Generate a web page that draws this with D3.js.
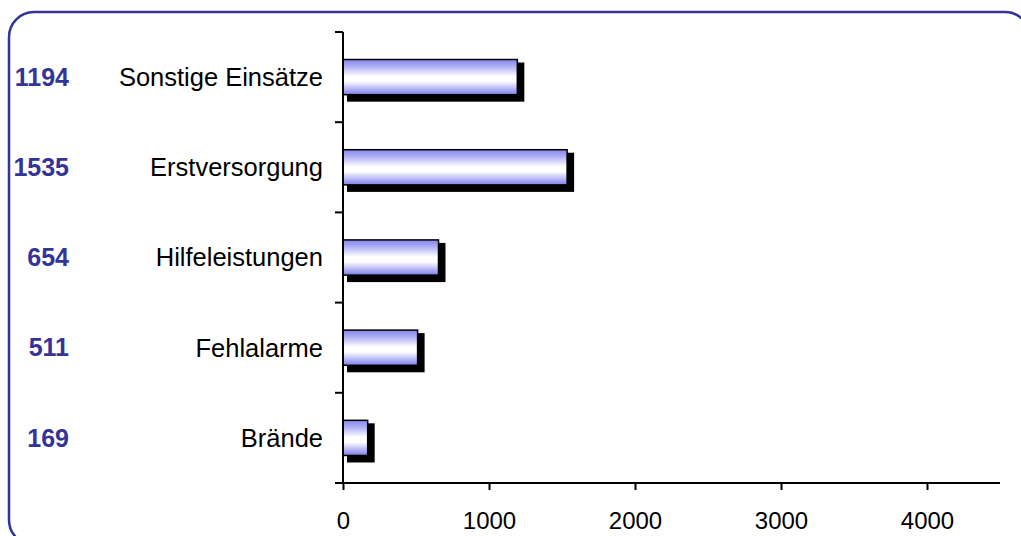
<!DOCTYPE html>
<html><head><meta charset="utf-8">
<script src="https://cdn.jsdelivr.net/npm/d3@7"></script>
<style>html,body{margin:0;padding:0;background:#fff;overflow:hidden}</style>
</head><body>
<svg id="c" width="1021" height="536"></svg>
<script>
const categories = ["Sonstige Einsätze", "Erstversorgung", "Hilfeleistungen", "Fehlalarme", "Brände"];
const values = [1194, 1535, 654, 511, 169];
const xTicks = [0, 1000, 2000, 3000, 4000];

const svg = d3.select("#c");
const font = "'Liberation Sans', Arial, sans-serif";

// frame
svg.append("rect").attr("x", 9).attr("y", 12).attr("width", 1021).attr("height", 533)
  .attr("rx", 25).attr("ry", 25).attr("fill", "none").attr("stroke", "#333399").attr("stroke-width", 2.5);

const defs = svg.append("defs");
const g = defs.append("linearGradient").attr("id", "bg").attr("x1", 0).attr("x2", 0).attr("y1", 0).attr("y2", 1);
[[0, "#8585ee"], [0.2, "#b0b0f6"], [0.48, "#ffffff"], [0.62, "#ffffff"], [0.85, "#b0b0f4"], [1, "#7f7fe8"]]
  .forEach(([o, c]) => g.append("stop").attr("offset", o).attr("stop-color", c));

const x = d3.scaleLinear().domain([0, 4500]).range([343, 1000]);
const y = d3.scaleBand().domain(categories).range([32, 483]).paddingInner(0.61).paddingOuter(0.305);
const yb = d3.scaleBand().domain(categories).range([32, 483]);

// shadows
svg.selectAll(".sh").data(values).join("rect")
  .attr("x", x(0) + 4).attr("y", (d, i) => y(categories[i]) + 3)
  .attr("width", d => x(d) - x(0) + 3).attr("height", y.bandwidth() + 4)
  .attr("fill", "#000");
// bars
svg.selectAll(".bar").data(values).join("rect")
  .attr("x", x(0)).attr("y", (d, i) => y(categories[i]))
  .attr("width", d => x(d) - x(0)).attr("height", y.bandwidth())
  .attr("fill", "url(#bg)").attr("stroke", "#000").attr("stroke-width", 1.5);

// x axis
const xa = svg.append("g").attr("transform", "translate(0,483)")
  .call(d3.axisBottom(x).tickValues(xTicks).tickFormat(d3.format("d")).tickSize(7).tickSizeOuter(0).tickPadding(22));
xa.select(".domain").attr("d", "M335,0H1000").attr("stroke-width", 2);
xa.selectAll(".tick line").attr("stroke-width", 2);
xa.selectAll("text").attr("font-family", font).attr("font-size", 24).attr("fill", "#000");

// y axis line and ticks at band boundaries
const ya = svg.append("g").attr("transform", "translate(343,0)")
  .call(d3.axisLeft(yb).tickSize(0).tickFormat(""));
ya.select(".domain").attr("d", "M0,32V483").attr("stroke-width", 2);
svg.selectAll(".yt").data(categories).join("line")
  .attr("x1", 335).attr("x2", 343)
  .attr("y1", d => yb(d)).attr("y2", d => yb(d))
  .attr("stroke", "#000").attr("stroke-width", 2);

// category labels
svg.selectAll(".cl").data(categories).join("text")
  .attr("x", 323).attr("y", d => yb(d) + yb.bandwidth() / 2)
  .attr("dy", "0.35em").attr("text-anchor", "end")
  .attr("font-family", font).attr("font-size", 25.5).attr("fill", "#000")
  .text(d => d);

// value labels
svg.selectAll(".vl").data(values).join("text")
  .attr("x", 69).attr("y", (d, i) => yb(categories[i]) + yb.bandwidth() / 2)
  .attr("dy", "0.35em").attr("text-anchor", "end")
  .attr("font-family", font).attr("font-size", 25).attr("font-weight", "bold").attr("fill", "#333399")
  .text(d => d);
</script>
</body></html>
